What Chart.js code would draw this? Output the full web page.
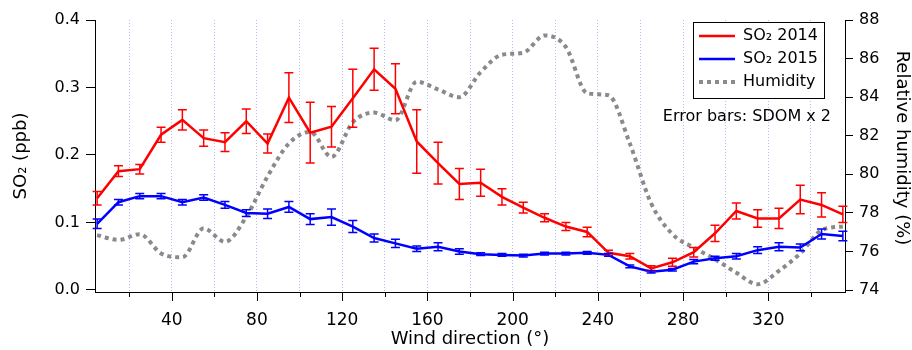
<!DOCTYPE html>
<html>
<head>
<meta charset="utf-8">
<script src="https://cdn.jsdelivr.net/npm/chart.js@4.4.1/dist/chart.umd.min.js"></script>
<style>
  html, body { margin: 0; padding: 0; background: #fff; }
</style>
</head>
<body>
<canvas id="chart" width="912" height="350"></canvas>
<script>
// Data
const windDir = [5, 15, 25, 35, 45, 55, 65, 75, 85, 95, 105, 115, 125, 135, 145, 155, 165, 175,
                 185, 195, 205, 215, 225, 235, 245, 255, 265, 275, 285, 295, 305, 315, 325, 335, 345, 355];
const so2_2014 = [0.136, 0.176, 0.179, 0.230, 0.252, 0.225, 0.219, 0.250, 0.217, 0.285, 0.233,
                  0.242, 0.284, 0.327, 0.298, 0.220, 0.188, 0.157, 0.159, 0.138, 0.122, 0.107,
                  0.094, 0.086, 0.055, 0.050, 0.032, 0.041, 0.056, 0.084, 0.117, 0.106, 0.106, 0.134, 0.126, 0.112];
const err2014 = [0.010, 0.008, 0.007, 0.011, 0.015, 0.012, 0.014, 0.018, 0.014, 0.037, 0.045,
                 0.030, 0.043, 0.031, 0.037, 0.047, 0.031, 0.023, 0.020, 0.012, 0.008, 0.006,
                 0.006, 0.007, 0.004, 0.004, 0.004, 0.006, 0.007, 0.012, 0.012, 0.013, 0.015, 0.021, 0.018, 0.012];
const so2_2015 = [0.098, 0.130, 0.139, 0.139, 0.130, 0.137, 0.126, 0.114, 0.113, 0.123, 0.105,
                  0.108, 0.094, 0.077, 0.069, 0.061, 0.064, 0.057, 0.053, 0.052, 0.051, 0.054,
                  0.054, 0.055, 0.052, 0.035, 0.027, 0.030, 0.042, 0.047, 0.050, 0.059, 0.064, 0.063, 0.083, 0.080];
const err2015 = [0.007, 0.004, 0.004, 0.004, 0.004, 0.004, 0.005, 0.005, 0.007, 0.008, 0.008,
                 0.012, 0.009, 0.006, 0.006, 0.004, 0.006, 0.004, 0.002, 0.002, 0.002, 0.002,
                 0.002, 0.002, 0.002, 0.002, 0.002, 0.002, 0.003, 0.003, 0.004, 0.005, 0.006, 0.005, 0.0075, 0.007];
const humidity = [76.85, 76.6, 76.9, 75.9, 75.7, 77.2, 76.5, 77.8, 79.9, 81.6, 82.2,
                  80.9, 82.7, 83.2, 82.8, 84.8, 84.4, 84.0, 85.3, 86.2, 86.3, 87.2,
                  86.6, 84.2, 84.1, 81.6, 78.5, 76.9, 76.2, 75.6, 74.9, 74.3, 75.0, 75.9, 77.1, 77.3];

const xTicks = [20, 40, 60, 80, 100, 120, 140, 160, 180, 200, 220, 240, 260, 280, 300, 320, 340];
const yTicks = [0, 0.1, 0.2, 0.3, 0.4];
const y1Ticks = [74, 76, 78, 80, 82, 84, 86, 88];

const RED = '#ff0000', BLUE = '#0000ff', GREY = '#8a8a8a';
const FONT = 'DejaVu Sans';

function toPoints(vals) {
    return windDir.map((d, i) => ({ x: d, y: vals[i] }));
}

function drawErrors(ctx, xs, ys, vals, errs, color) {
    ctx.save();
    ctx.strokeStyle = color;
    ctx.lineWidth = 1.5;
    ctx.beginPath();
    windDir.forEach((d, i) => {
        const px = xs.getPixelForValue(d);
        const top = ys.getPixelForValue(vals[i] + errs[i]);
        const bot = ys.getPixelForValue(vals[i] - errs[i]);
        ctx.moveTo(px, top); ctx.lineTo(px, bot);
        ctx.moveTo(px - 4.5, top); ctx.lineTo(px + 4.5, top);
        ctx.moveTo(px - 4.5, bot); ctx.lineTo(px + 4.5, bot);
    });
    ctx.stroke();
    ctx.restore();
}

// error bars, x tick marks, legend box, note and right axis title
const extras = {
    id: 'extras',
    afterDatasetsDraw(chart) {
        const { ctx, scales: { x, y } } = chart;
        drawErrors(ctx, x, y, so2_2014, err2014, RED);
        drawErrors(ctx, x, y, so2_2015, err2015, BLUE);
    },
    afterDraw(chart) {
        const { ctx, chartArea, scales: { x } } = chart;
        ctx.save();
        // x tick marks: long at labels, short between
        ctx.strokeStyle = '#000';
        ctx.lineWidth = 1;
        ctx.beginPath();
        xTicks.forEach(v => {
            const px = Math.round(x.getPixelForValue(v)) + 0.5;
            const len = v % 40 === 0 ? 9 : 5;
            ctx.moveTo(px, chartArea.bottom);
            ctx.lineTo(px, chartArea.bottom + len);
        });
        ctx.stroke();

        // legend
        ctx.fillStyle = '#fff';
        ctx.fillRect(693, 22, 131, 76);
        ctx.strokeStyle = '#000';
        ctx.lineWidth = 1;
        ctx.strokeRect(693.5, 22.5, 131, 76);
        const rows = [
            { label: 'SO₂ 2014', color: RED, dash: [], width: 2.5 },
            { label: 'SO₂ 2015', color: BLUE, dash: [], width: 2.5 },
            { label: 'Humidity', color: GREY, dash: [4, 4], width: 4 }
        ];
        ctx.font = '16px "' + FONT + '"';
        ctx.textBaseline = 'middle';
        rows.forEach((r, i) => {
            const ry = 36 + i * 23;
            ctx.strokeStyle = r.color;
            ctx.lineWidth = r.width;
            ctx.setLineDash(r.dash);
            ctx.beginPath();
            ctx.moveTo(699, ry); ctx.lineTo(735, ry);
            ctx.stroke();
            ctx.setLineDash([]);
            ctx.fillStyle = '#000';
            ctx.fillText(r.label, 743, ry);
        });

        // note
        ctx.textAlign = 'right';
        ctx.fillText('Error bars: SDOM x 2', 831, 117);

        // right axis title
        ctx.translate(902, 148);
        ctx.rotate(Math.PI / 2);
        ctx.textAlign = 'center';
        ctx.font = '18px "' + FONT + '"';
        ctx.fillText('Relative humidity (%)', 0, 0);
        ctx.restore();
    }
};

new Chart(document.getElementById('chart'), {
    type: 'line',
    data: {
        datasets: [
            {
                label: 'SO₂ 2014',
                data: toPoints(so2_2014),
                borderColor: RED,
                borderWidth: 2.5,
                pointRadius: 0,
                tension: 0,
                yAxisID: 'y'
            },
            {
                label: 'SO₂ 2015',
                data: toPoints(so2_2015),
                borderColor: BLUE,
                borderWidth: 2.5,
                pointRadius: 0,
                tension: 0,
                yAxisID: 'y'
            },
            {
                label: 'Humidity',
                data: toPoints(humidity),
                borderColor: GREY,
                borderWidth: 4,
                borderDash: [4, 4],
                pointRadius: 0,
                cubicInterpolationMode: 'monotone',
                yAxisID: 'y1'
            }
        ]
    },
    options: {
        responsive: false,
        animation: false,
        layout: { padding: { top: 20 } },
        plugins: {
            legend: { display: false },
            tooltip: { enabled: false }
        },
        scales: {
            x: {
                type: 'linear',
                min: 4,
                max: 356,
                afterBuildTicks: s => { s.ticks = xTicks.map(v => ({ value: v })); },
                afterFit: s => { s.height = 58; },
                grid: {
                    drawTicks: false,
                    color: '#b8b8f0',
                    lineWidth: 1
                },
                // in v4 border.dash styles the grid lines
                border: { display: true, color: '#000', width: 1, dash: [1, 2] },
                ticks: {
                    autoSkip: false,
                    maxRotation: 0,
                    padding: 18,
                    color: '#000',
                    font: { family: FONT, size: 17 },
                    callback: v => (v % 40 === 0 ? String(v) : '')
                },
                title: {
                    display: true,
                    text: 'Wind direction (°)',
                    color: '#000',
                    font: { family: FONT, size: 18 },
                    padding: { top: 0, bottom: 0 }
                }
            },
            y: {
                position: 'left',
                min: -0.003,
                max: 0.4,
                afterBuildTicks: s => { s.ticks = yTicks.map(v => ({ value: v })); },
                afterFit: s => { s.width = 95; },
                grid: { drawOnChartArea: false, tickLength: 9, tickColor: '#000' },
                border: { display: true, color: '#000', width: 1 },
                ticks: {
                    padding: 6,
                    color: '#000',
                    font: { family: FONT, size: 16 },
                    callback: v => v.toFixed(1)
                },
                title: {
                    display: true,
                    text: 'SO₂ (ppb)',
                    color: '#000',
                    font: { family: FONT, size: 18 },
                    padding: { top: 11, bottom: 0 }
                }
            },
            y1: {
                position: 'right',
                min: 73.9,
                max: 88,
                afterBuildTicks: s => { s.ticks = y1Ticks.map(v => ({ value: v })); },
                afterFit: s => { s.width = 67; },
                grid: { drawOnChartArea: false, tickLength: 8, tickColor: '#000' },
                border: { display: true, color: '#000', width: 1 },
                ticks: {
                    padding: 6,
                    color: '#000',
                    font: { family: FONT, size: 16 }
                }
            }
        }
    },
    plugins: [extras]
});
</script>
</body>
</html>
